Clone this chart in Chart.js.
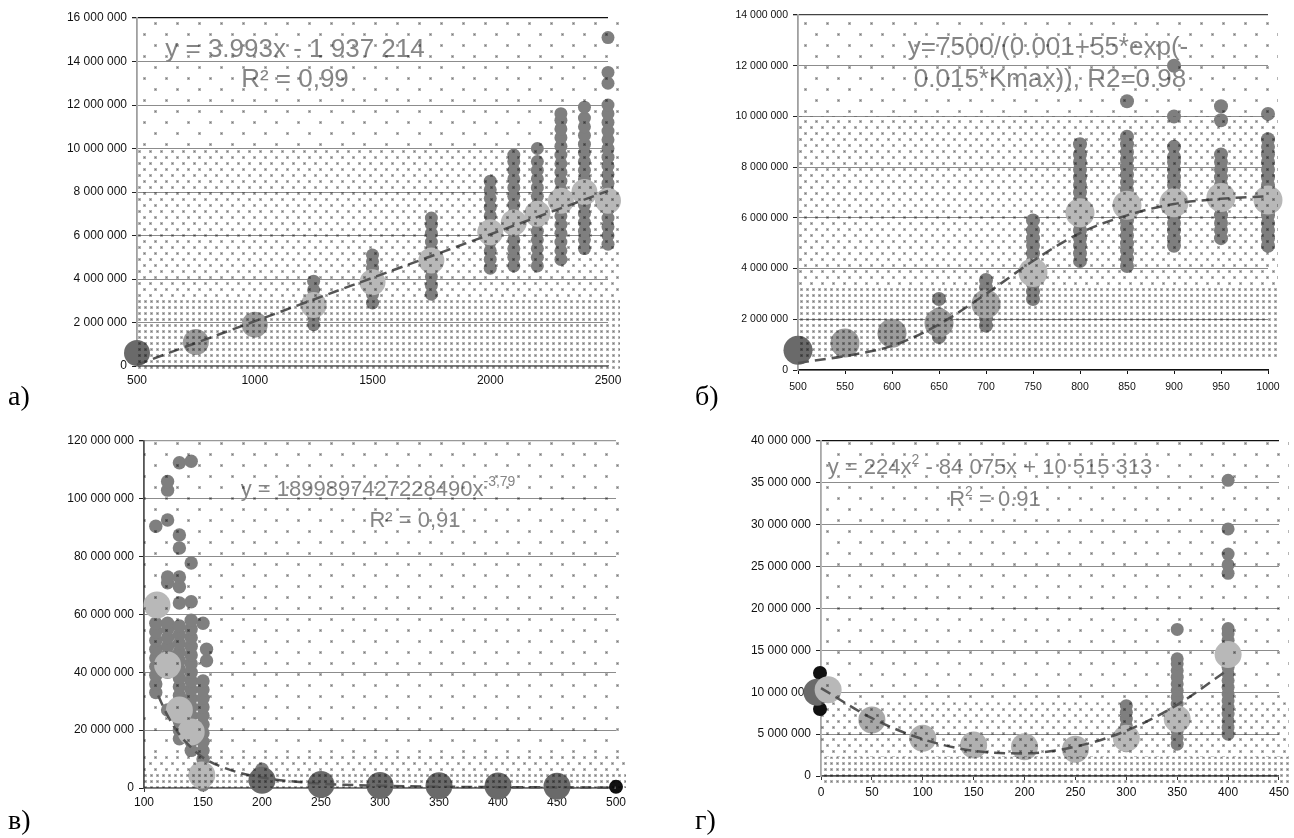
<!DOCTYPE html>
<html lang="ru"><head><meta charset="utf-8">
<script src="https://cdn.jsdelivr.net/npm/chart.js@4.4.1/dist/chart.umd.min.js"></script>
<style>
html,body{margin:0;padding:0;background:#fff}
body{width:1294px;height:838px;position:relative;overflow:hidden}
.box{position:absolute}
.lbl{position:absolute;font-family:"Liberation Serif","Times New Roman",serif;font-size:28px;line-height:28px;color:#000}
</style></head><body>
<div class="box" style="left:0;top:0;width:640px;height:400px"><canvas id="ca"></canvas></div>
<div class="box" style="left:650px;top:0;width:644px;height:400px"><canvas id="cb"></canvas></div>
<div class="box" style="left:0;top:420px;width:640px;height:418px"><canvas id="cc"></canvas></div>
<div class="box" style="left:650px;top:420px;width:644px;height:418px"><canvas id="cd"></canvas></div>
<div class="lbl" style="left:8px;top:382px">а)</div>
<div class="lbl" style="left:695px;top:382px">б)</div>
<div class="lbl" style="left:8px;top:806px">в)</div>
<div class="lbl" style="left:695px;top:806px">г)</div>
<script>
// ================= DATA (y values in millions) =================
// --- chart а)
const aX = [500,750,1000,1250,1500,1750,2000,2100,2200,2300,2400,2500];
const aPts = [
  [],[],[],
  [1.9,2.3,2.7,3.1,3.5,3.9],
  [2.9,3.3,3.7,4.1,4.5,4.8,5.1],
  [3.3,3.7,4.1,4.5,4.9,5.3,5.7,6.1,6.5,6.8],
  [4.5,4.9,5.3,5.7,6.1,6.5,6.9,7.3,7.7,8.1,8.5],
  [4.6,5.0,5.4,5.8,6.2,6.6,7.0,7.4,7.8,8.2,8.6,9.0,9.4,9.7],
  [4.6,5.0,5.4,5.8,6.2,6.6,7.0,7.4,7.8,8.2,8.6,9.0,9.4,10.0],
  [4.9,5.3,5.7,6.1,6.5,6.9,7.3,7.7,8.1,8.5,8.9,9.3,9.7,10.1,10.5,10.9,11.3,11.6],
  [5.4,5.8,6.2,6.6,7.0,7.4,7.8,8.2,8.6,9.0,9.4,9.8,10.2,10.6,11.0,11.4,11.9],
  [5.6,6.0,6.4,6.8,7.2,7.6,8.0,8.4,8.8,9.2,9.6,10.0,10.4,10.8,11.2,11.6,12.0,13.0,13.5,15.1]
];
const aMean = [0.6,1.1,1.9,2.8,3.85,4.85,6.15,6.6,7.0,7.6,8.0,7.6];
const aTrendX = [500,2500];
const aTrendY = [0.06,8.05];
const aXTicks = [500,1000,1500,2000,2500];
const aYTicks = [0,2,4,6,8,10,12,14,16];

// --- chart б)
const bX = [500,550,600,650,700,750,800,850,900,950,1000];
const bPts = [
  [],[],[],
  [1.3,1.6,1.9,2.2,2.8],
  [1.75,2.05,2.35,2.65,2.95,3.25,3.55],
  [2.8,3.1,3.4,3.7,4.0,4.3,4.6,4.9,5.2,5.5,5.9],
  [4.3,4.6,4.9,5.2,5.5,5.8,6.1,6.4,6.7,7.0,7.3,7.6,7.9,8.2,8.5,8.9],
  [4.1,4.4,4.7,5.0,5.3,5.6,5.9,6.2,6.5,6.8,7.1,7.4,7.7,8.0,8.3,8.6,8.9,9.2,10.6],
  [4.9,5.2,5.5,5.8,6.1,6.4,6.7,7.0,7.3,7.6,7.9,8.2,8.4,8.8,10.0,12.0],
  [5.2,5.5,5.8,6.1,6.4,6.7,7.0,7.3,7.6,7.9,8.2,8.5,9.85,10.4],
  [4.9,5.2,5.5,5.8,6.1,6.4,6.7,7.0,7.3,7.6,7.9,8.2,8.5,8.8,9.1,10.1]
];
const bMean = [0.78,1.06,1.45,1.85,2.6,3.85,6.2,6.5,6.6,6.8,6.7];
const bTrendX = [500,550,600,650,700,750,800,850,900,950,1000];
const bTrendY = [0.28,0.55,0.95,1.8,3.0,4.3,5.4,6.1,6.55,6.75,6.85];
const bXTicks = [500,550,600,650,700,750,800,850,900,950,1000];
const bYTicks = [0,2,4,6,8,10,12,14];

// --- chart в)
const cX = [110,120,130,140,150,153,200];
const cPts = [
  [33,36,39,42,45,48,51,54,57,90.5],
  [27,40,43,46,49,52,55,57,71,73,92.7,103,106],
  [17,20,23,26,29,32,35,38,41,44,47,50,53,56,64,69.6,73,83,87.5,112.5],
  [13,16,19,22,25,28,31,34,37,40,43,46,49,52,55,58,64.4,77.8,113],
  [1,4,7,10,13,16,19,22,25,28,31,34,37,57],
  [44,48],
  [6.5]
];
const cMeanX = [111,120,130,140,149,200,250,300,350,400,450,500];
const cMean  = [63.3,42.5,27,19.4,4.5,2.7,1.2,0.9,0.8,0.7,0.6,0.4];
const cTrendX = [112,120,130,140,150,175,200,250,300,350,400,450,500];
const cTrendY = [32,25,18.5,14,10.5,6,3.6,1.5,0.8,0.45,0.3,0.2,0.1];
const cXTicks = [100,150,200,250,300,350,400,450,500];
const cYTicks = [0,20,40,60,80,100,120];

// --- chart г)
const dX = [300,350,400];
const dPts = [
  [3.6,4.4,5.2,6.0,6.8,7.6,8.4],
  [3.8,4.6,5.4,6.2,7.0,7.8,8.6,9.4,10.2,11.0,11.8,12.6,13.4,14.0,17.5],
  [5.0,5.8,6.6,7.4,8.2,9.0,9.8,10.6,11.4,12.2,13.0,13.8,14.6,15.4,16.2,17.0,17.6,24.2,25.2,26.5,29.5,35.3]
];
const dEdgeX = [-1,-1];
const dEdgeY = [8.0,12.3];
const dMeanX = [-4,7,50,100,150,200,250,300,350,400];
const dMean  = [10.0,10.3,6.7,4.5,3.7,3.5,3.2,4.5,6.8,14.5];
const dTrendX = [0,50,100,150,200,250,300,350,400];
const dTrendY = [10.5,6.9,4.4,3.0,2.7,3.5,5.4,8.5,12.7];
const dXTicks = [0,50,100,150,200,250,300,350,400,450];
const dYTicks = [0,5,10,15,20,25,30,35,40];

// ================= STYLE / LAYOUT =================
const L='#b8b8b8', M='#9c9c9c', D='#6a6a6a';
const charts = [
 {id:'ca', X:aX, P:aPts, MX:aX, M:aMean, TX:aTrendX, TY:aTrendY, xT:aXTicks, yT:aYTicks,
  xMin:500, xMax:2500, yMin:0, yMax:16, left:137, top:18, right:32, xh:34,
  ptR:6.5, ptC:'#7f7f7f', mR:13, mC:[D,M,M,L,L,L,L,L,L,L,L,L], tension:false,
  font:12, xTick:4, xPad:3, xTickColor:'rgba(0,0,0,0)', xBorder:'#777', yBorder:'#a0a0a0', topColor:'#111',
  bands:[[10,16,'s'],[3.1,10,'m'],[-0.2,3.1,'d']], extra:12,
  texts:[{cx:295,cy:50,size:26,parts:[['y = 3.993x - 1 937 214']]},{cx:295,cy:80,size:26,parts:[['R² = 0,99']]}]},
 {id:'cb', X:bX, P:bPts, MX:bX, M:bMean, TX:bTrendX, TY:bTrendY, xT:bXTicks, yT:bYTicks,
  xMin:500, xMax:1000, yMin:0, yMax:14, left:148, top:15, right:26, xh:30,
  ptR:7, ptC:'#7f7f7f', mR:14.5, mC:[D,M,M,M,'#a6a6a6',L,L,L,L,L,L], tension:true,
  font:10.5, xTick:4, xPad:7, xTickColor:'#111', xBorder:'#111', yBorder:'#a0a0a0', topColor:'#444',
  bands:[[10,14,'s'],[3.3,10,'m'],[0.45,3.3,'d']], extra:10,
  texts:[{cx:398,cy:48,size:26,parts:[['y=7500/(0.001+55*exp(-']]},{cx:400,cy:80,size:26,parts:[['0.015*Kmax)), R2=0.98']]}]},
 {id:'cc', X:cX, P:cPts, MX:cMeanX, M:cMean, TX:cTrendX, TY:cTrendY, xT:cXTicks, yT:cYTicks,
  xMin:100, xMax:500, yMin:0, yMax:120, left:144, top:21, right:24, xh:50,
  ptR:6.7, ptC:'#7f7f7f', mR:[13.5,13.5,13.5,13.5,13.5,13.5,13.5,13.5,13.5,13.5,13.5,7], mC:[L,L,L,L,L,D,D,D,D,D,D,'#111'], tension:true,
  font:12, xTick:4, xPad:3, xTickColor:'#333', xBorder:'#777', yBorder:'#555', topColor:'#999',
  bands:[[12,120,'s'],[5,12,'m'],[0,5,'d']], extra:10,
  texts:[{cx:378,cy:70,size:22,parts:[['y = 1899897427228490x'],['-3,79',1]]},{cx:415,cy:101,size:22,parts:[['R² = 0,91']]}]},
 {id:'cd', X:dX, P:dPts, MX:dMeanX, M:dMean, TX:dTrendX, TY:dTrendY, xT:dXTicks, yT:dYTicks, EX:dEdgeX, EY:dEdgeY,
  xMin:0, xMax:450, yMin:0, yMax:40, left:171, top:21, right:14, xh:62,
  ptR:6.5, ptC:'#7f7f7f', mR:13.5, mC:[D,L,'#a8a8a8','#b0b0b0','#b0b0b0','#b0b0b0','#b0b0b0',L,L,L], tension:true,
  font:12, xTick:4, xPad:5, xTickColor:'#333', xBorder:'#555', yBorder:'#a8a8a8', topColor:'#111',
  bands:[[8.8,40,'s'],[2.3,8.8,'m'],[-1,2.3,'d']], extra:10,
  texts:[{cx:340,cy:48,size:22,parts:[['y = 224x'],['2',1],[' - 84 075x + 10 515 313']]},{cx:345,cy:80,size:22,parts:[['R'],['2',1],[' = 0.91']]}]}
];

const FONT='"Liberation Sans", Arial, sans-serif';
function fmtM(v){ return Math.round(v*1e6).toString().replace(/\B(?=(\d{3})+(?!\d))/g,' '); }

function tile(kind){
  const spec = {s:{w:22,h:22,d:[[1,1],[12,12]]}, m:{w:11,h:12,d:[[1,1],[6.5,7]]}, d:{w:6,h:6,d:[[1,1]]}}[kind];
  const c=document.createElement('canvas'); c.width=spec.w; c.height=spec.h;
  const g=c.getContext('2d');
  spec.d.forEach(p=>{
    const x=Math.round(p[0]), y=Math.round(p[1]);
    g.fillStyle='#b4b4b4'; g.fillRect(x-1,y-1,3,3);
    g.fillStyle='#7a7a7a'; g.fillRect(x,y,1,1);
  });
  return c;
}

function overlay(st){
  return {
    id:'overlay'+st.id,
    afterDatasetsDraw(chart){
      const ctx=chart.ctx, ca=chart.chartArea, ys=chart.scales.y;
      ctx.save();
      ctx.fillStyle='#858585'; ctx.textBaseline='middle'; ctx.textAlign='left';
      st.texts.forEach(line=>{
        let w=0; const ws=[];
        line.parts.forEach(p=>{ ctx.font=(p[1]?Math.round(line.size*0.62):line.size)+'px '+FONT; const m=ctx.measureText(p[0]).width; ws.push(m); w+=m; });
        let x=line.cx-w/2;
        line.parts.forEach((p,i)=>{ ctx.font=(p[1]?Math.round(line.size*0.62):line.size)+'px '+FONT; ctx.fillText(p[0],x,line.cy+(p[1]?-line.size*0.36:0)); x+=ws[i]; });
      });
      ctx.globalCompositeOperation='multiply';
      st.bands.forEach(b=>{
        const y0=ys.getPixelForValue(b[0]), y1=ys.getPixelForValue(b[1]);
        ctx.fillStyle=ctx.createPattern(tile(b[2]),'repeat');
        ctx.fillRect(ca.left, y1, ca.right-ca.left+st.extra, y0-y1);
      });
      ctx.restore();
    }
  };
}

charts.forEach(st=>{
  const pts=[]; st.X.forEach((x,i)=>st.P[i].forEach(y=>pts.push({x,y})));
  const means=st.MX.map((x,i)=>({x,y:st.M[i]}));
  const trend=st.TX.map((x,i)=>({x,y:st.TY[i]}));
  const edge=(st.EX||[]).map((x,i)=>({x,y:st.EY[i]}));
  const tickFont={size:st.font,family:FONT};
  new Chart(document.getElementById(st.id),{
    type:'scatter',
    data:{datasets:[
      {type:'line', data:trend, borderColor:'#555', borderWidth:2.5, borderDash:[11,6], pointRadius:0, fill:false, clip:false, showLine:true,
       cubicInterpolationMode: st.tension?'monotone':'default', order:0},
      {data:means, pointBackgroundColor:st.mC, pointRadius:st.mR, pointBorderWidth:0, clip:false, order:1},
      {data:edge, pointBackgroundColor:'#111', pointRadius:7, pointBorderWidth:0, clip:false, order:2},
      {data:pts, pointBackgroundColor:st.ptC, pointRadius:st.ptR, pointBorderWidth:0, clip:false, order:3}
    ]},
    options:{
      responsive:true, maintainAspectRatio:false, animation:false, events:[],
      layout:{padding:{left:0,top:st.top,right:st.right,bottom:0}},
      plugins:{legend:{display:false},tooltip:{enabled:false}},
      scales:{
        x:{type:'linear', min:st.xMin, max:st.xMax,
           afterBuildTicks:s=>{ s.ticks=st.xT.map(v=>({value:v})); },
           afterFit:s=>{ s.height=st.xh; },
           grid:{display:true, drawOnChartArea:false, drawTicks:true, tickLength:st.xTick, color:st.xTickColor, tickColor:st.xTickColor},
           border:{display:true, color:st.xBorder, width:1.2},
           ticks:{font:tickFont, color:'#111', padding:st.xPad, maxRotation:0, autoSkip:false, callback:v=>String(v)}},
        y:{type:'linear', min:st.yMin, max:st.yMax,
           afterBuildTicks:s=>{ s.ticks=st.yT.map(v=>({value:v})); },
           afterFit:s=>{ s.width=st.left; },
           grid:{color:c=>(c.tick && c.tick.value===st.yMax)?st.topColor:'#8c8c8c', lineWidth:c=>(c.tick && c.tick.value===st.yMax)?1.3:1, drawTicks:true, tickLength:5, tickColor:'#222'},
           border:{display:true, color:st.yBorder, width:1.8},
           ticks:{font:tickFont, color:'#111', padding:5, autoSkip:false, callback:v=>fmtM(v)}}
      }
    },
    plugins:[overlay(st)]
  });
});
</script>
</body></html>
